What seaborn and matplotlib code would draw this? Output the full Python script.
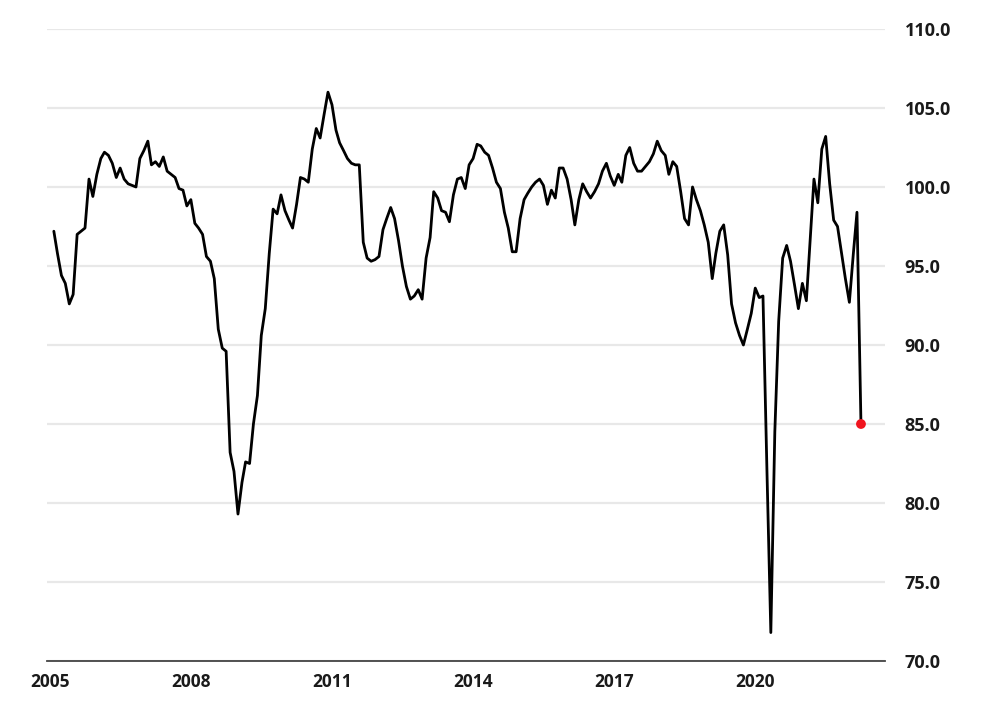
import pandas as pd
import matplotlib
matplotlib.use("Agg")
import matplotlib.pyplot as plt
import matplotlib.dates as mdates
import seaborn as sns

# monthly index values, Jan 2005 .. Mar 2022
start_month = "2005-01-31"
index_values = [
    97.2, 95.8, 94.4, 93.9, 92.6, 93.2, 97.0, 97.2, 97.4, 100.5, 99.4, 100.8,
    101.8, 102.2, 102.0, 101.5, 100.6, 101.2, 100.5, 100.2, 100.1, 100.0, 101.8, 102.3,
    102.9, 101.4, 101.6, 101.3, 101.9, 101.0, 100.8, 100.6, 99.9, 99.8, 98.8, 99.2,
    97.7, 97.4, 97.0, 95.6, 95.3, 94.2, 91.0, 89.8, 89.6, 83.2, 82.0, 79.3,
    81.3, 82.6, 82.5, 85.0, 86.8, 90.6, 92.3, 95.8, 98.6, 98.3, 99.5, 98.5,
    97.9, 97.4, 98.9, 100.6, 100.5, 100.3, 102.4, 103.7, 103.1, 104.6, 106.0, 105.2,
    103.6, 102.8, 102.3, 101.8, 101.5, 101.4, 101.4, 96.5, 95.5, 95.3, 95.4, 95.6,
    97.3, 98.0, 98.7, 98.0, 96.6, 95.0, 93.7, 92.9, 93.1, 93.5, 92.9, 95.5,
    96.8, 99.7, 99.3, 98.5, 98.4, 97.8, 99.5, 100.5, 100.6, 99.9, 101.4, 101.8,
    102.7, 102.6, 102.2, 102.0, 101.2, 100.3, 99.9, 98.4, 97.4, 95.9, 95.9, 98.0,
    99.2, 99.6, 100.0, 100.3, 100.5, 100.1, 98.9, 99.8, 99.3, 101.2, 101.2, 100.5,
    99.2, 97.6, 99.2, 100.2, 99.7, 99.3, 99.7, 100.2, 101.0, 101.5, 100.7, 100.1,
    100.8, 100.3, 102.0, 102.5, 101.5, 101.0, 101.0, 101.3, 101.6, 102.1, 102.9, 102.3,
    102.0, 100.8, 101.6, 101.3, 99.7, 98.0, 97.6, 100.0, 99.2, 98.5, 97.6, 96.5,
    94.2, 95.8, 97.2, 97.6, 95.7, 92.6, 91.4, 90.6, 90.0, 91.0, 92.0, 93.6,
    93.0, 93.1, 82.0, 71.8, 84.5, 91.5, 95.5, 96.3, 95.3, 93.8, 92.3, 93.9,
    92.8, 96.5, 100.5, 99.0, 102.4, 103.2, 100.2, 97.9, 97.5, 95.8, 94.2, 92.7,
    95.8, 98.4, 85.0,
]
tick_years = [2005, 2008, 2011, 2014, 2017, 2020]
y_ticks = [70, 75, 80, 85, 90, 95, 100, 105, 110]

dates = pd.date_range(start_month, periods=len(index_values), freq="ME")
df = pd.DataFrame({"date": dates, "value": index_values})

sns.set_theme(style="white")
plt.rcParams["font.family"] = ["Open Sans", "DejaVu Sans"]

fig = plt.figure(figsize=(9.96, 7.17), dpi=100)
ax = fig.add_axes([0.0472, 0.0781, 0.8414, 0.8815])

ax.grid(axis="y", color="#e8e8e8", linewidth=1.6)
ax.set_axisbelow(True)

sns.lineplot(data=df, x="date", y="value", color="black", linewidth=2.0, ax=ax)
sns.scatterplot(data=df.tail(1), x="date", y="value", color="#f0141e", s=50,
                edgecolor="none", zorder=5, ax=ax)

ax.set_xlim(pd.Timestamp("2004-12-09"), pd.Timestamp("2022-10-04"))
ax.set_ylim(70, 110)

ax.set_xticks([pd.Timestamp(f"{y}-01-01") for y in tick_years])
ax.xaxis.set_major_formatter(mdates.DateFormatter("%Y"))
ax.set_yticks(y_ticks)
ax.set_yticklabels([f"{v:.1f}" for v in y_ticks])

ax.yaxis.tick_right()
ax.tick_params(axis="y", length=0, pad=14, labelsize=13, labelcolor="#1a1a1a")
ax.tick_params(axis="x", direction="inout", length=5, width=1, color="#333333",
               pad=6, labelsize=12.5, labelcolor="#1a1a1a")
for lab in ax.get_xticklabels() + ax.get_yticklabels():
    lab.set_fontweight("bold")

for side in ["top", "right", "left"]:
    ax.spines[side].set_visible(False)
ax.spines["bottom"].set_color("#444444")
ax.spines["bottom"].set_linewidth(1.3)

ax.set_xlabel("")
ax.set_ylabel("")

fig.savefig("out.png", dpi=100, facecolor="white")
